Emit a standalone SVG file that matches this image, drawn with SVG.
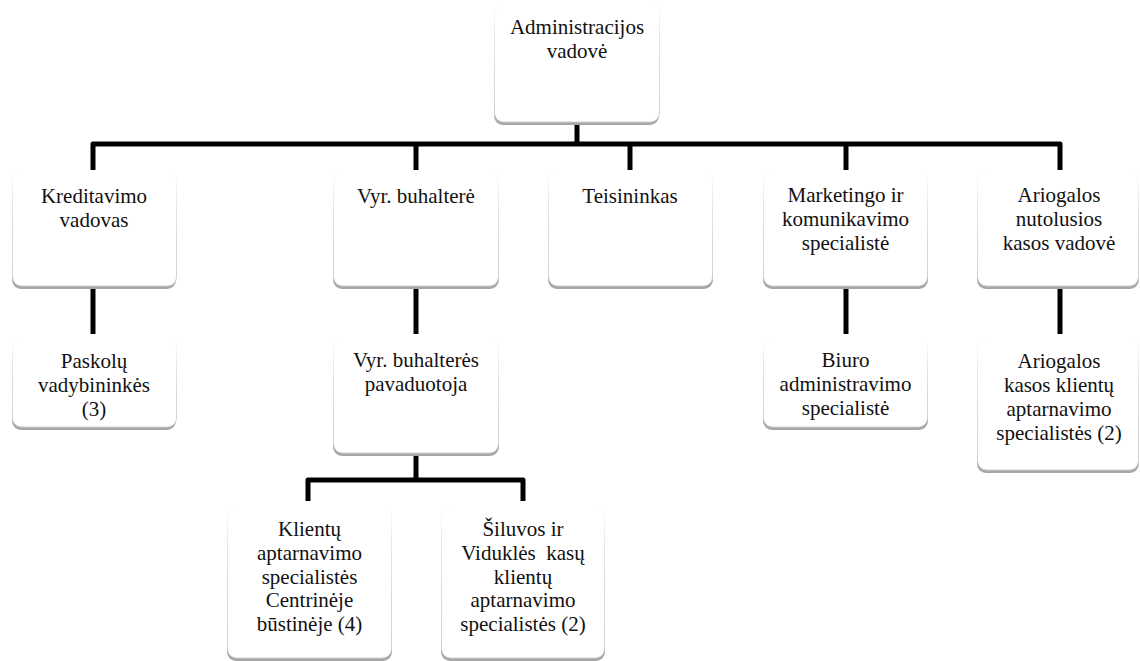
<svg xmlns="http://www.w3.org/2000/svg" width="1140" height="661" viewBox="0 0 1140 661">
<style>
.shadow{fill:#a6a6a6}
.box{fill:#ffffff;stroke:url(#edge);stroke-width:1}
.t{font-size:21px;fill:#111;text-anchor:middle;white-space:pre}
.conn{fill:none;stroke:#000;stroke-width:5;stroke-linejoin:round;stroke-linecap:butt}
</style>
<defs>
<linearGradient id="edge" x1="0" y1="0" x2="0" y2="1">
<stop offset="0" stop-color="#ffffff"/>
<stop offset="0.3" stop-color="#e4e4e4"/>
<stop offset="1" stop-color="#cfcfcf"/>
</linearGradient>
</defs>
<rect width="1140" height="661" fill="#ffffff"/>
<g id="connectors">
<path class="conn" d="M577 122 V144"/>
<path class="conn" d="M93 170 V144 H1060 V170"/>
<path class="conn" d="M416 144 V170"/>
<path class="conn" d="M630 144 V170"/>
<path class="conn" d="M846 144 V170"/>
<path class="conn" d="M93 288 V334"/>
<path class="conn" d="M416 288 V334"/>
<path class="conn" d="M846 288 V334"/>
<path class="conn" d="M1060 288 V334"/>
<path class="conn" d="M416 455 V480"/>
<path class="conn" d="M308 501 V480 H523 V501"/>
</g>
<g font-family="Liberation Serif, Times New Roman, serif">
<g id="n-admin">
<rect class="shadow" x="494" y="7" width="165" height="118" rx="9"/>
<rect class="box" x="494.5" y="4" width="165" height="118" rx="9"/>
<text class="t" x="577" y="34">Administracijos</text>
<text class="t" x="577" y="58">vadovė</text>
</g>
<g id="n-kredit">
<rect class="shadow" x="12" y="175" width="164" height="114" rx="9"/>
<rect class="box" x="12.5" y="172" width="164" height="114" rx="9"/>
<text class="t" x="94" y="203">Kreditavimo</text>
<text class="t" x="94" y="227">vadovas</text>
</g>
<g id="n-vyrbuh">
<rect class="shadow" x="333" y="175" width="166" height="114" rx="9"/>
<rect class="box" x="333.5" y="172" width="165" height="114" rx="9"/>
<text class="t" x="416" y="203">Vyr. buhalterė</text>
</g>
<g id="n-teis">
<rect class="shadow" x="548" y="175" width="165" height="114" rx="9"/>
<rect class="box" x="548.5" y="172" width="164" height="114" rx="9"/>
<text class="t" x="630" y="203">Teisininkas</text>
</g>
<g id="n-market">
<rect class="shadow" x="763" y="175" width="165" height="114" rx="9"/>
<rect class="box" x="763.5" y="172" width="164" height="114" rx="9"/>
<text class="t" x="845.5" y="202">Marketingo ir</text>
<text class="t" x="845.5" y="226">komunikavimo</text>
<text class="t" x="845.5" y="250">specialistė</text>
</g>
<g id="n-ariog">
<rect class="shadow" x="977" y="175" width="162" height="114" rx="9"/>
<rect class="box" x="977.5" y="172" width="161" height="114" rx="9"/>
<text class="t" x="1059" y="202">Ariogalos</text>
<text class="t" x="1059" y="226">nutolusios</text>
<text class="t" x="1059" y="250">kasos vadovė</text>
</g>
<g id="n-paskol">
<rect class="shadow" x="12" y="341" width="164" height="89" rx="9"/>
<rect class="box" x="12.5" y="338" width="164" height="89" rx="9"/>
<text class="t" x="94" y="368">Paskolų</text>
<text class="t" x="94" y="392">vadybininkės</text>
<text class="t" x="94" y="416">(3)</text>
</g>
<g id="n-pavad">
<rect class="shadow" x="333" y="341" width="166" height="115" rx="9"/>
<rect class="box" x="333.5" y="338" width="165" height="115" rx="9"/>
<text class="t" x="416" y="367">Vyr. buhalterės</text>
<text class="t" x="416" y="391">pavaduotoja</text>
</g>
<g id="n-biuro">
<rect class="shadow" x="763" y="341" width="165" height="89" rx="9"/>
<rect class="box" x="763.5" y="338" width="164" height="89" rx="9"/>
<text class="t" x="845.5" y="367">Biuro</text>
<text class="t" x="845.5" y="391">administravimo</text>
<text class="t" x="845.5" y="415">specialistė</text>
</g>
<g id="n-arkasa">
<rect class="shadow" x="977" y="341" width="162" height="132" rx="9"/>
<rect class="box" x="977.5" y="338" width="161" height="132" rx="9"/>
<text class="t" x="1059" y="368">Ariogalos</text>
<text class="t" x="1059" y="392">kasos klientų</text>
<text class="t" x="1059" y="416">aptarnavimo</text>
<text class="t" x="1059" y="440">specialistės (2)</text>
</g>
<g id="n-klient">
<rect class="shadow" x="227" y="507" width="165" height="154" rx="9"/>
<rect class="box" x="227.5" y="504" width="164" height="154" rx="9"/>
<text class="t" x="309.5" y="536">Klientų</text>
<text class="t" x="309.5" y="560">aptarnavimo</text>
<text class="t" x="309.5" y="584">specialistės</text>
<text class="t" x="309.5" y="607">Centrinėje</text>
<text class="t" x="309.5" y="631">būstinėje (4)</text>
</g>
<g id="n-siluv">
<rect class="shadow" x="441" y="507" width="164" height="154" rx="9"/>
<rect class="box" x="441.5" y="504" width="163" height="154" rx="9"/>
<text class="t" x="523" y="536">Šiluvos ir</text>
<text class="t" x="523" y="560">Viduklės  kasų</text>
<text class="t" x="523" y="584">klientų</text>
<text class="t" x="523" y="607">aptarnavimo</text>
<text class="t" x="523" y="631">specialistės (2)</text>
</g>
</g>
</svg>
